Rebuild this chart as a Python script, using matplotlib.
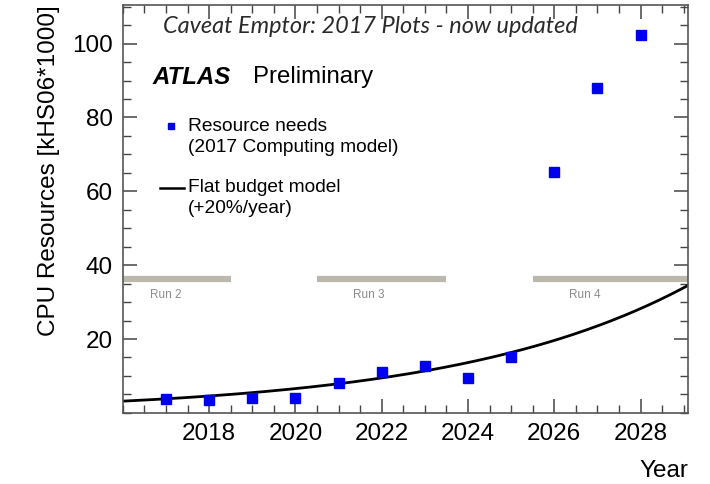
import numpy as np
import matplotlib
matplotlib.use("Agg")
from matplotlib import pyplot as plt
from matplotlib.ticker import MultipleLocator

# resource needs per year (kHS06*1000)
years = [2017, 2018, 2019, 2020, 2021, 2022, 2023, 2024, 2025, 2026, 2027, 2028]
needs = [3.8, 3.5, 4.1, 4.1, 8.1, 11.1, 12.7, 9.5, 15.2, 65.3, 88.1, 102.2]

# flat budget model: value in 2017 and yearly growth
budget_year0 = 2017
budget_value0 = 3.8
budget_growth = 0.20

# LHC run periods
runs = ["Run 2", "Run 3", "Run 4"]
run_start = [2016.0, 2020.5, 2025.5]
run_end = [2018.5, 2023.5, 2029.1]
run_label_x = [2017.0, 2021.7, 2026.7]
run_level = 36.3

x_ticks = [2018, 2020, 2022, 2024, 2026, 2028]
y_ticks = [20, 40, 60, 80, 100]

xmin, xmax = 2016.0, 2029.1
ymin, ymax = 0.0, 110.5

plt.rcParams['font.family'] = ['Liberation Sans', 'DejaVu Sans']

fig = plt.figure(figsize=(7.1, 4.84), dpi=100)
ax = fig.add_axes([0.173, 0.147, 0.796, 0.843])

# run bars and their labels
for name, a, b, lx in zip(runs, run_start, run_end, run_label_x):
    ax.plot([a, b], [run_level, run_level], color='#bdb8ae', lw=4.5,
            solid_capstyle='butt', zorder=1)
    ax.text(lx, run_level - 4.3, name, fontsize=8.5, color='#8c8c8c',
            ha='center', va='center')

# flat budget curve
xs = np.linspace(xmin, xmax, 300)
ax.plot(xs, budget_value0 * (1 + budget_growth) ** (xs - budget_year0),
        color='black', lw=2.0, zorder=2)

ax.plot(years, needs, ls='none', marker='s', ms=6.5, color='#0000f0',
        zorder=3)

ax.set_xlim(xmin, xmax)
ax.set_ylim(ymin, ymax)
ax.set_xticks(x_ticks)
ax.xaxis.set_minor_locator(MultipleLocator(0.5))
ax.set_yticks(y_ticks)
ax.yaxis.set_minor_locator(MultipleLocator(5))
ax.tick_params(which='both', direction='in', top=True, right=True,
               labelsize=17.5, color='#444444', pad=7)
ax.tick_params(which='major', length=10, width=1.1)
ax.tick_params(which='minor', length=5.5, width=1.0)
for s in ax.spines.values():
    s.set_color('#555555')
    s.set_linewidth(1.2)

ax.set_ylabel("CPU Resources [kHS06*1000]", fontsize=17.5, loc='top')
ax.yaxis.set_label_coords(-0.112, 1.0)
fig.text(0.969, 0.004, "Year", fontsize=17.5, ha='right', va='bottom')

ax.text(0.071, 0.947, "Caveat Emptor: 2017 Plots - now updated",
        transform=ax.transAxes, fontsize=16.9, style='italic',
        family=['Lato', 'DejaVu Sans'], color='#2a2a2a', va='center')
ax.text(0.053, 0.822, "ATLAS", transform=ax.transAxes, fontsize=17.3,
        weight='bold', style='italic', va='center')
ax.text(0.230, 0.822, "Preliminary", transform=ax.transAxes, fontsize=17.3,
        va='center')

# legend drawn by hand
ax.plot([0.086], [0.702], transform=ax.transAxes, marker='s', ms=5,
        color='#0000f0', ls='none')
ax.text(0.115, 0.702, "Resource needs", transform=ax.transAxes,
        fontsize=13.8, va='center')
ax.text(0.115, 0.651, "(2017 Computing model)", transform=ax.transAxes,
        fontsize=13.8, va='center')
ax.plot([0.065, 0.108], [0.552, 0.552], transform=ax.transAxes,
        color='black', lw=1.8)
ax.text(0.115, 0.552, "Flat budget model", transform=ax.transAxes,
        fontsize=13.8, va='center')
ax.text(0.115, 0.500, "(+20%/year)", transform=ax.transAxes,
        fontsize=13.8, va='center')

fig.savefig("out.png", dpi=100)
